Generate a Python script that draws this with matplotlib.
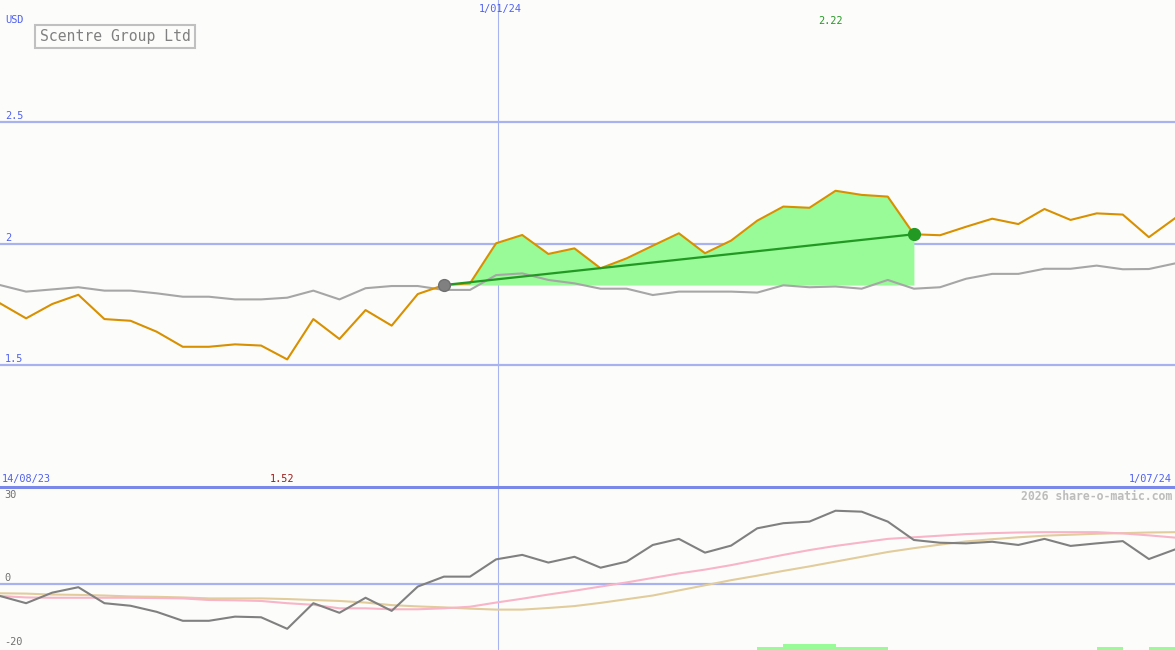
import matplotlib
matplotlib.use("Agg")
import matplotlib.pyplot as plt
import matplotlib.transforms as mtransforms
import numpy as np

# weekly closes, 14/08/23 .. 1/07/24
price = [1.756, 1.694, 1.753, 1.791, 1.691, 1.684, 1.639, 1.577, 1.577, 1.587,
         1.582, 1.525, 1.691, 1.609, 1.728, 1.664, 1.794, 1.831, 1.838, 2.003,
         2.037, 1.959, 1.982, 1.900, 1.941, 1.993, 2.044, 1.962, 2.014, 2.096,
         2.154, 2.149, 2.219, 2.202, 2.195, 2.040, 2.036, 2.071, 2.104, 2.082,
         2.144, 2.099, 2.126, 2.121, 2.028, 2.106]
# comparison index (grey)
index_line = [1.831, 1.804, 1.813, 1.822, 1.808, 1.808, 1.797, 1.783, 1.783, 1.772,
              1.772, 1.779, 1.808, 1.772, 1.818, 1.827, 1.827, 1.811, 1.811, 1.872,
              1.879, 1.852, 1.838, 1.816, 1.816, 1.790, 1.804, 1.804, 1.804, 1.800,
              1.830, 1.822, 1.825, 1.816, 1.852, 1.816, 1.822, 1.857, 1.877, 1.877,
              1.898, 1.898, 1.911, 1.896, 1.897, 1.920]
# lower panel oscillators
momentum = [-3.75, -6.0, -2.7, -1.0, -6.0, -6.8, -8.7, -11.5, -11.5, -10.2,
            -10.4, -14.0, -6.0, -9.0, -4.3, -8.4, -0.8, 2.3, 2.3, 7.7,
            9.1, 6.7, 8.5, 5.1, 7.0, 12.2, 14.1, 9.8, 12.0, 17.4,
            19.0, 19.5, 22.9, 22.6, 19.5, 13.75, 12.9, 12.7, 13.2, 12.2,
            14.1, 11.9, 12.7, 13.4, 7.8, 10.8]
pink_avg = [-3.75, -4.2, -4.3, -4.3, -4.3, -4.3, -4.4, -4.5, -5.0, -5.1,
            -5.3, -6.0, -6.5, -7.6, -7.6, -7.9, -7.9, -7.6, -7.1, -5.8,
            -4.6, -3.3, -2.1, -0.8, 0.5, 1.9, 3.3, 4.5, 5.9, 7.5,
            9.1, 10.6, 11.9, 13.0, 14.1, 14.6, 15.1, 15.6, 15.9, 16.1,
            16.2, 16.2, 16.2, 15.8, 15.2, 14.5]
tan_avg = [-2.9, -3.0, -3.3, -3.4, -3.6, -3.9, -4.0, -4.2, -4.5, -4.5,
           -4.5, -4.7, -5.0, -5.3, -5.8, -6.6, -7.0, -7.3, -7.7, -8.0,
           -8.0, -7.5, -6.9, -5.9, -4.75, -3.6, -2.0, -0.4, 1.2, 2.6,
           4.1, 5.5, 7.0, 8.5, 10.0, 11.2, 12.3, 13.3, 14.0, 14.6,
           15.1, 15.4, 15.7, 15.9, 16.1, 16.2]
# small green bars along the bottom (week index -> level)
bar_weeks = [29, 30, 31, 32, 33, 42, 44]
bar_levels = [1, 2, 2, 1, 1, 1, 1]

hold_start, hold_end = 17, 35
price_grid = [1.5, 2.0, 2.5]
price_labels = ["1.5", "2", "2.5"]
osc_ticks = [30, 0, -20]
date_first, date_mid, date_last = "14/08/23", "1/01/24", "1/07/24"
mid_pos = 19.07

BG = "#fcfdfa"
BLUE_TXT = "#5060f0"
GRID = "#a8b2f0"
W, H = 1175, 650
mono = "DejaVu Sans Mono"

fig = plt.figure(figsize=(W / 100, H / 100), dpi=100, facecolor=BG)


def fx(px):
    return px / W


def fy(py):
    return 1 - py / H


ax = fig.add_axes([0, fy(487), 1, 487 / H])
ax2 = fig.add_axes([0, 0, 1, fy(488)])
for a in (ax, ax2):
    a.set_facecolor(BG)
    a.set_xlim(0, len(price) - 1)
    for s in a.spines.values():
        s.set_visible(False)
    a.set_xticks([])
    a.set_yticks([])

x = np.arange(len(price))
ax.set_ylim(1.0, 3.004)
ax2.set_ylim(-20.625, 30)

# grid lines + labels
lab_tr = mtransforms.blended_transform_factory(ax.transAxes, ax.transData)
for v, lab in zip(price_grid, price_labels):
    ax.axhline(v, color=GRID, lw=1.6, zorder=1)
    ax.text(0.004, v + 0.006, lab, transform=lab_tr, color=BLUE_TXT, fontsize=7.4,
            family=mono, va="bottom", ha="left")
ax2.axhline(0, color=GRID, lw=1.6, zorder=1)
osc_tr = mtransforms.blended_transform_factory(ax2.transAxes, ax2.transData)
for v in osc_ticks:
    y = min(v, 25.9)
    ax2.text(0.004, y + 0.3, str(v), transform=osc_tr, color="#707070", fontsize=7.4,
             family=mono, va="bottom", ha="left")

for a in (ax, ax2):
    a.axvline(mid_pos, color="#a8b4f0", lw=0.8, zorder=1)

# holding period shading
hx = x[hold_start:hold_end + 1]
hp = np.array(price[hold_start:hold_end + 1])
base = price[hold_start]
ax.fill_between(hx, base, hp, where=hp >= base, interpolate=True,
                color="#98fb98", lw=0, zorder=2)

ax.plot(x, index_line, color="#a6a6a6", lw=1.5, zorder=3)
ax.plot(x, price, color="#d89000", lw=1.5, zorder=4)
ax.plot([hold_start, hold_end], [price[hold_start], price[hold_end]],
        color="#229922", lw=1.6, zorder=5)
ax.plot(hold_start, price[hold_start], "o", color="#808080", mec="#707070",
        ms=8.5, zorder=6)
ax.plot(hold_end, price[hold_end], "o", color="#229922", ms=8.5, zorder=6)

# lower panel
ax2.bar(bar_weeks, [lv * 0.95 for lv in bar_levels], width=1, align="edge",
        bottom=-20.625, color="#98fb98", lw=0, zorder=2)
ax2.plot(x, tan_avg, color="#e2cc9c", lw=1.5, zorder=3)
ax2.plot(x, pink_avg, color="#f8b4c8", lw=1.5, zorder=3)
ax2.plot(x, momentum, color="#808080", lw=1.5, zorder=4)

# separator between panels
fig.add_artist(plt.Line2D([0, 1], [fy(487), fy(487)], color="#7a88ea", lw=2.2))

fig.text(fx(5), fy(20), "USD", color=BLUE_TXT, fontsize=7.4, family=mono, va="center")
fig.text(fx(500), fy(9), date_mid, color=BLUE_TXT, fontsize=7.4, family=mono,
         va="center", ha="center")
fig.text(fx(830), fy(21), f"{max(price):.2f}", color="#229922", fontsize=7.4,
         family=mono, va="center", ha="center")
fig.text(fx(2), fy(479), date_first, color=BLUE_TXT, fontsize=7.4, family=mono, va="center")
fig.text(fx(282), fy(479), f"{min(price):.2f}", color="#a01818", fontsize=7.4,
         family=mono, va="center", ha="center")
fig.text(fx(1172), fy(479), date_last, color=BLUE_TXT, fontsize=7.4, family=mono,
         va="center", ha="right")
fig.text(fx(1172), fy(496), "2026 share-o-matic.com", color="#bcbcbc", fontsize=8.3,
         family=mono, va="center", ha="right", weight="bold")
fig.text(fx(115), fy(36.5), "Scentre Group Ltd", color="#808080", fontsize=10.6,
         family=mono, va="center", ha="center",
         bbox=dict(boxstyle="square,pad=0.3", fc=BG, ec="#c0c0c0", lw=1.5))

fig.savefig("out.png", dpi=100, facecolor=BG)
